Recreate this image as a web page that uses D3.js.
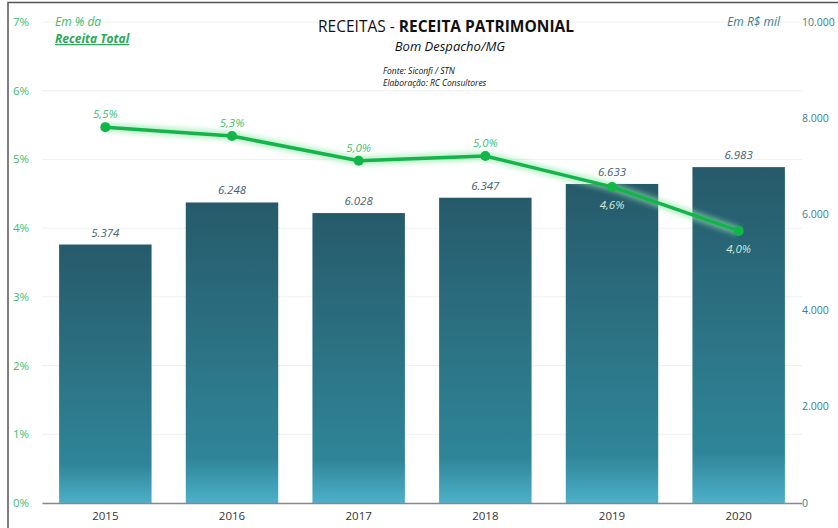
<!DOCTYPE html>
<html>
<head>
<meta charset="utf-8">
<script src="https://cdn.jsdelivr.net/npm/d3@7"></script>
<style>
  body { margin: 0; background: #fff; }
  svg { font-family: "Open Sans", sans-serif; }
</style>
</head>
<body>
<svg id="chart"></svg>
<script>
// data
let years = ["2015", "2016", "2017", "2018", "2019", "2020"];
let receita = [5374, 6248, 6028, 6347, 6633, 6983];
let percent = [5.47, 5.34, 4.98, 5.05, 4.60, 3.96];
let pctLabels = ["5,5%", "5,3%", "5,0%", "5,0%", "4,6%", "4,0%"];
let leftTicks = [0, 1, 2, 3, 4, 5, 6, 7];
let rightTicks = [0, 2000, 4000, 6000, 8000, 10000];

let width = 838;
let height = 528;

let svg = d3.select("#chart")
    .attr("width", width)
    .attr("height", height);

let fmt = d3.formatLocale({ decimal: ",", thousands: ".", grouping: [3], currency: ["R$", ""] }).format(",d");

let xScale = d3.scaleBand()
    .domain(years)
    .range([42, 802])
    .paddingInner(0.27)
    .paddingOuter(0.135);

let yRight = d3.scaleLinear().domain([0, 10000]).range([503, 22]);
let yLeft = d3.scaleLinear().domain([0, 7]).range([503, 22]);

// frame
svg.append("path")
    .attr("d", "M8,528 L8,2.5 L838,2.5")
    .attr("fill", "none")
    .attr("stroke", "#555")
    .attr("stroke-width", 1.5);

// gradient for bars
let defs = svg.append("defs");
let grad = defs.append("linearGradient")
    .attr("id", "barGrad")
    .attr("x1", 0).attr("y1", 0).attr("x2", 0).attr("y2", 1);
grad.append("stop").attr("offset", "0%").attr("stop-color", "#265a6a");
grad.append("stop").attr("offset", "85%").attr("stop-color", "#2f8598");
grad.append("stop").attr("offset", "100%").attr("stop-color", "#4cb0c8");

let glow = defs.append("filter").attr("id", "glow")
    .attr("x", "-10%").attr("y", "-50%").attr("width", "120%").attr("height", "200%");
glow.append("feGaussianBlur").attr("stdDeviation", 2.5);

// faint gridlines
svg.append("g")
    .selectAll("line")
    .data(leftTicks.slice(1))
    .enter()
    .append("line")
    .attr("x1", 42).attr("x2", 802)
    .attr("y1", (d) => yLeft(d)).attr("y2", (d) => yLeft(d))
    .attr("stroke", "#f0f0f0")
    .attr("stroke-width", 1);

// bars
svg.selectAll("rect.bar")
    .data(receita)
    .enter()
    .append("rect")
    .attr("class", "bar")
    .attr("x", (d, i) => xScale(years[i]))
    .attr("y", (d) => yRight(d))
    .attr("width", xScale.bandwidth())
    .attr("height", (d) => yRight(0) - yRight(d))
    .attr("fill", "url(#barGrad)");

// bar value labels
svg.selectAll("text.val")
    .data(receita)
    .enter()
    .append("text")
    .attr("class", "val")
    .attr("x", (d, i) => xScale(years[i]) + xScale.bandwidth() / 2)
    .attr("y", (d) => yRight(d) - 8)
    .attr("text-anchor", "middle")
    .attr("font-size", 11.5)
    .attr("font-style", "italic")
    .attr("fill", "#456373")
    .text((d) => fmt(d));

// axes
let xAxis = d3.axisBottom(xScale).tickSize(0).tickPadding(9);
let gx = svg.append("g")
    .attr("transform", "translate(0," + yLeft(0) + ")")
    .call(xAxis);
gx.select(".domain").attr("stroke", "#888").attr("stroke-width", 1.5);
gx.selectAll("text").attr("font-size", 11.5).attr("fill", "#333").attr("font-family", "Open Sans, sans-serif");

let yAxisL = d3.axisLeft(yLeft).tickValues(leftTicks).tickSize(0).tickFormat((d) => d + "%");
let gl = svg.append("g").attr("transform", "translate(32,0)").call(yAxisL);
gl.select(".domain").remove();
gl.selectAll("text").attr("font-size", 11.5).attr("fill", "#3dbd72").attr("font-family", "Open Sans, sans-serif").attr("dy", "0.3em");

let yAxisR = d3.axisRight(yRight).tickValues(rightTicks).tickSize(0).tickFormat((d) => fmt(d));
let gr = svg.append("g").attr("transform", "translate(799,0)").call(yAxisR);
gr.select(".domain").remove();
gr.selectAll("text").attr("font-size", 10.5).attr("fill", "#3a7f8c").attr("font-family", "Open Sans, sans-serif").attr("dy", "0.3em");

// line
let line = d3.line()
    .x((d, i) => xScale(years[i]) + xScale.bandwidth() / 2)
    .y((d) => yLeft(d));

svg.append("path")
    .datum(percent)
    .attr("d", line)
    .attr("fill", "none")
    .attr("stroke", "#8ee6a8")
    .attr("stroke-width", 9)
    .attr("opacity", 0.6)
    .attr("filter", "url(#glow)");

svg.append("path")
    .datum(percent)
    .attr("d", line)
    .attr("fill", "none")
    .attr("stroke", "#12b548")
    .attr("stroke-width", 3.5);

svg.selectAll("circle.pt")
    .data(percent)
    .enter()
    .append("circle")
    .attr("class", "pt")
    .attr("cx", (d, i) => xScale(years[i]) + xScale.bandwidth() / 2)
    .attr("cy", (d) => yLeft(d))
    .attr("r", 5)
    .attr("fill", "#12b548");

svg.selectAll("text.pct")
    .data(percent)
    .enter()
    .append("text")
    .attr("class", "pct")
    .attr("x", (d, i) => xScale(years[i]) + xScale.bandwidth() / 2)
    .attr("y", (d, i) => i < 4 ? yLeft(d) - 9 : yLeft(d) + 22)
    .attr("text-anchor", "middle")
    .attr("font-size", 11.5)
    .attr("font-style", "italic")
    .attr("fill", (d, i) => i < 4 ? "#3dbd72" : "#cfe9da")
    .text((d, i) => pctLabels[i]);

// titles
let title = svg.append("text")
    .attr("x", 446).attr("y", 32)
    .attr("text-anchor", "middle")
    .attr("font-size", 15.5)
    .attr("fill", "#111");
title.append("tspan").text("RECEITAS - ");
title.append("tspan").attr("font-weight", "bold").text("RECEITA PATRIMONIAL");

svg.append("text")
    .attr("x", 450).attr("y", 51)
    .attr("text-anchor", "middle")
    .attr("font-size", 13)
    .attr("font-style", "italic")
    .attr("fill", "#111")
    .text("Bom Despacho/MG");

svg.append("text")
    .attr("x", 383).attr("y", 74)
    .attr("font-size", 8.5)
    .attr("font-style", "italic")
    .attr("fill", "#111")
    .text("Fonte: Siconfi  / STN");

svg.append("text")
    .attr("x", 383).attr("y", 86)
    .attr("font-size", 8.5)
    .attr("font-style", "italic")
    .attr("fill", "#111")
    .text("Elaboração: RC Consultores");

svg.append("text")
    .attr("x", 55).attr("y", 26)
    .attr("font-size", 12)
    .attr("font-style", "italic")
    .attr("fill", "#3dbd72")
    .text("Em % da");

svg.append("text")
    .attr("x", 55).attr("y", 43)
    .attr("font-size", 12)
    .attr("font-style", "italic")
    .attr("font-weight", "bold")
    .attr("text-decoration", "underline")
    .attr("fill", "#2aa85c")
    .text("Receita Total");

svg.append("text")
    .attr("x", 780).attr("y", 26)
    .attr("text-anchor", "end")
    .attr("font-size", 12)
    .attr("font-style", "italic")
    .attr("fill", "#3a7f8c")
    .text("Em R$ mil");
</script>
</body>
</html>
